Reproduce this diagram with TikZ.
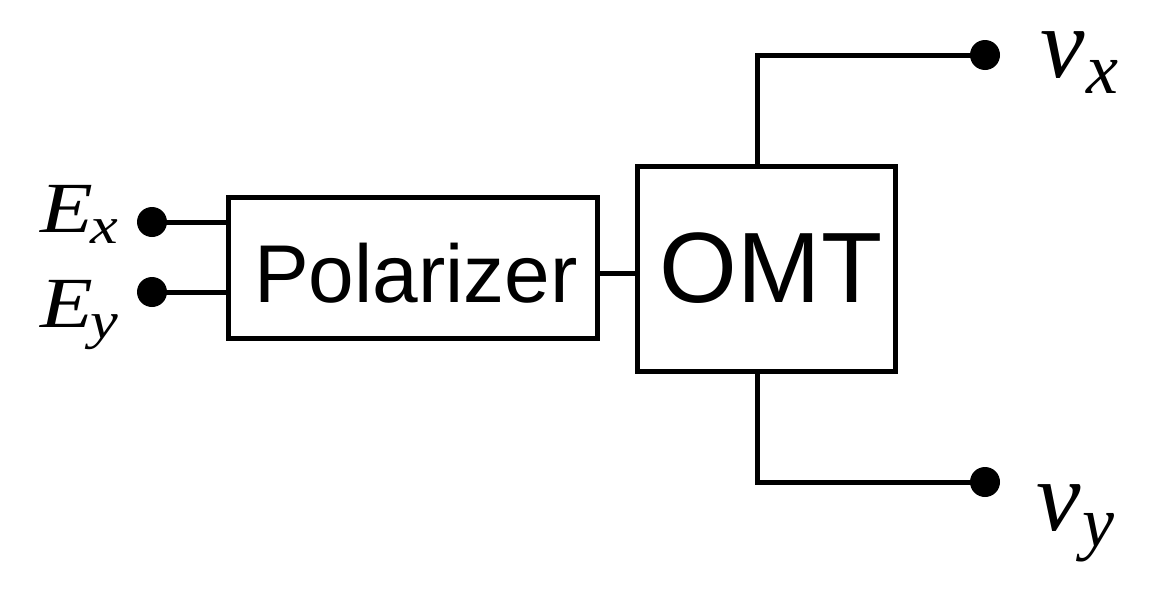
\documentclass[tikz,border=0pt]{standalone}
\usepackage{fontspec}
\setmainfont{Liberation Serif}
\newfontfamily\sansf{Liberation Sans}
\usetikzlibrary{calc}
\tikzset{
  wire/.style={line width=2.5pt, line cap=rect},
  blk/.style={draw, line width=2.5pt, inner sep=0pt, font=\sansf},
  dot/.style={circle, fill=black, inner sep=0pt, minimum size=15pt},
  lbl/.style={anchor=base west, inner sep=0pt}
}
\newcommand{\bigE}[1]{\scalebox{1.2}[1]{{\fontsize{36}{36}\selectfont\itshape E}\kern-1pt\raisebox{-5.5pt}{\fontsize{26}{26}\selectfont\itshape #1}}}
\newcommand{\bigV}[1]{{\fontsize{50}{50}\selectfont\itshape v}\kern1pt\raisebox{-8pt}{\fontsize{36}{36}\selectfont\itshape #1}}
\begin{document}
\begin{tikzpicture}[x=0.5pt,y=-0.5pt]
\useasboundingbox (0,0) rectangle (1164,595);
\node[blk, minimum width=184.5pt, minimum height=70.5pt] (pol) at (412.5,267.5) {};
\node[font=\sansf\fontsize{41}{41}\selectfont, anchor=base, inner sep=0pt] (poltxt) at (416,302) {Polarizer};
\node[blk, minimum width=129pt, minimum height=102.5pt] (omt) at (766,268.5) {};
\node[font=\sansf\fontsize{50}{50}\selectfont, anchor=base, inner sep=0pt] (omttxt) at (771,302) {OMT};
\node[dot] (dex) at (152,222) {};
\node[dot] (dey) at (152,292) {};
\node[dot] (dvx) at (985,55) {};
\node[dot] (dvy) at (985,482) {};
\draw[wire] (dex.center) -- (dex -| pol.west);
\draw[wire] (dey.center) -- (dey -| pol.west);
\coordinate (mid) at (0,273);
\draw[wire] (mid -| pol.east) -- (mid -| omt.west);
\coordinate (tapx) at (757,0);
\draw[wire] (tapx |- omt.north) |- (dvx.center);
\draw[wire] (tapx |- omt.south) |- (dvy.center);
\node[lbl] (lex) at (40,232) {\bigE{x}};
\node[lbl] (ley) at (40,327) {\bigE{y}};
\node[lbl] (lvx) at (1040,77) {\bigV{x}};
\node[lbl] (lvy) at (1036,530) {\bigV{y}};
\end{tikzpicture}
\end{document}
